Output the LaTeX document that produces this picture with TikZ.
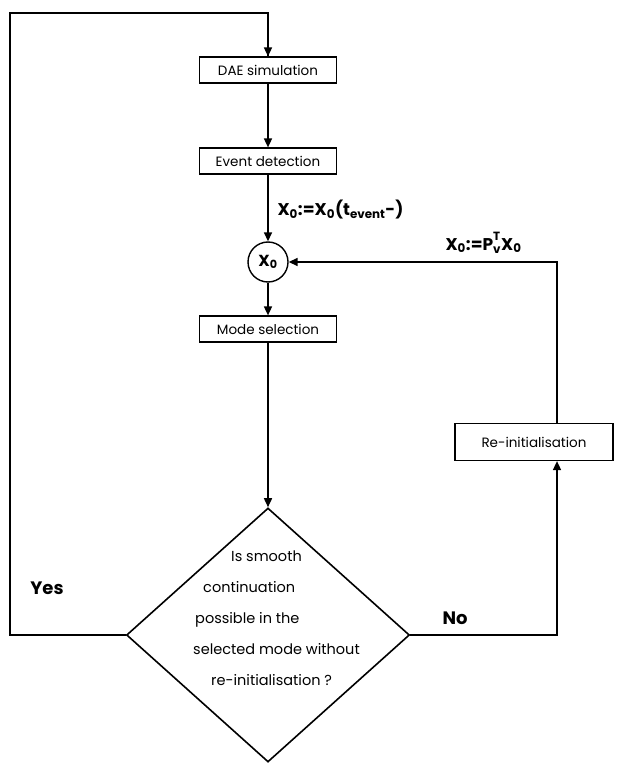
\documentclass[tikz,border=0pt]{standalone}
\usepackage{fontspec}
\setmainfont{Poppins}
\usetikzlibrary{arrows.meta,shapes.geometric}

\newcommand{\low}[1]{\textsubscript{#1}}
\newcommand{\supsub}[2]{\rlap{\raisebox{3pt}{\textsuperscript{#1}}}\raisebox{-1pt}{\textsubscript{#2}}}

\tikzset{
  flow/.style={line width=1.6pt,-{Triangle[length=9pt,width=8pt]}},
  wire/.style={line width=1.6pt},
  stepbox/.style={draw,line width=1.2pt,minimum width=137,minimum height=26,font=\fontsize{13.5}{15}\selectfont},
  decision/.style={draw,diamond,line width=1.6pt,minimum width=283,minimum height=254,inner sep=0pt},
  lbl/.style={font=\bfseries\fontsize{17}{19}\selectfont}
}

\begin{document}
\begin{tikzpicture}[x=1pt,y=-1pt]
  \useasboundingbox (0,0) rectangle (629,767);
  % main column
  \node[stepbox] (sim) at (268,70) {DAE simulation};
  \node[stepbox] (detect) at (268,161) {Event detection};
  \node[draw,circle,line width=1.4pt,minimum size=40,inner sep=0pt,font=\bfseries\fontsize{16}{18}\selectfont] (xz) at (268,262) {X\low{0}};
  \node[stepbox] (mode) at (268,329) {Mode selection};
  \node[decision] (decide) at (268,635) {};
  \node[align=left,anchor=west,inner sep=0pt,font=\fontsize{14.5}{31}\selectfont] (ask) at (193,618) {%
    \hspace*{38pt}Is smooth\\
    \hspace*{10pt}continuation\\
    \hspace*{2pt}possible in the\\
    selected mode without\\
    \hspace*{18pt}re-initialisation ?};
  % right branch
  \node[stepbox,minimum width=158,minimum height=37] (reinit) at (534,442) {Re-initialisation};
  \coordinate (topleft) at (10,13);
  \coordinate (botleft) at (10,635);
  \coordinate (botright) at (557,635);
  \coordinate (topright) at (557,262);

  \draw[flow] (sim) -- (detect);
  \draw[flow] (detect) -- (xz);
  \draw[flow] (xz) -- (mode);
  \draw[flow] (mode) -- (decide.north);
  % yes: back to simulation
  \draw[wire] (decide.west) -- (botleft) -- (topleft) -| (sim.north);
  \draw[flow] (topleft -| sim.north) -- (sim.north);
  % no: re-initialise
  \draw[flow] (decide.east) -- (botright) -- (botright |- reinit.south);
  \draw[flow] (botright |- reinit.north) -- (topright) -- (xz.east);

  % labels
  \node[lbl,anchor=west] (jump) at (274,210) {X\low{0}:=X\low{0}(t\low{event}-)};
  \node[lbl,anchor=west] (proj) at (442,243) {X\low{0}:=P\supsub{T}{v}X\low{0}};
  \node[font=\bfseries\fontsize{18}{20}\selectfont] (yes) at (47,588) {Yes};
  \node[font=\bfseries\fontsize{18}{20}\selectfont] (no) at (455,618) {No};
\end{tikzpicture}
\end{document}
